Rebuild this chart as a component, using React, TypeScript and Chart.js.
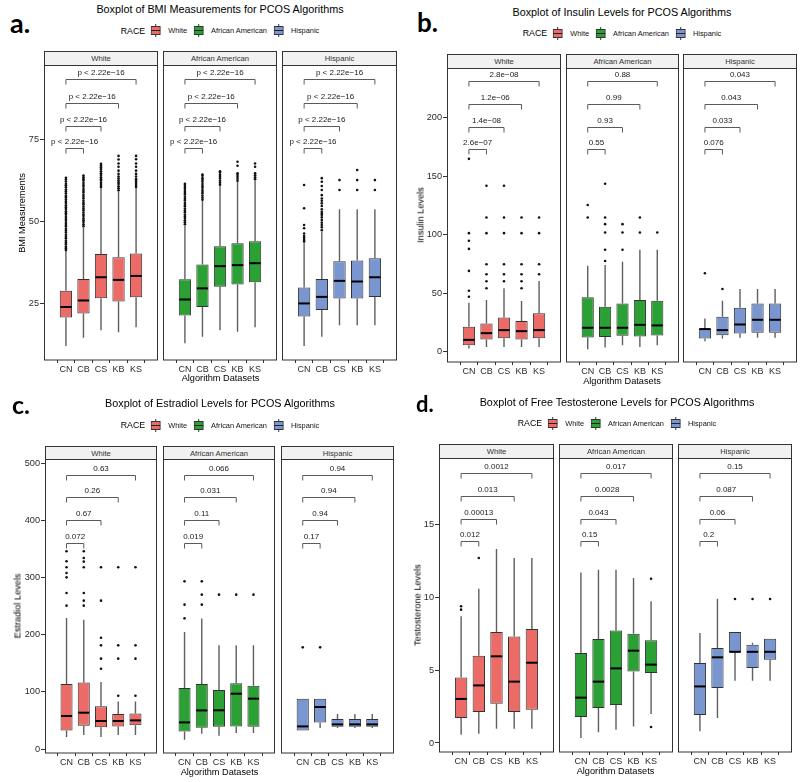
import React, { useEffect, useRef } from 'react';
import { Chart, registerables } from 'chart.js';

Chart.register(...registerables);

const FONT = '"Liberation Sans", Arial, Helvetica, sans-serif';
Chart.defaults.font.family = FONT;

// ---------------- shared categories ----------------
const CATS = ['CN', 'CB', 'CS', 'KB', 'KS'];
const RACES = ['White', 'African American', 'Hispanic'];
const RACE_COLORS = ['#EC6B66', '#2BA035', '#7A96D0'];

// ---------------- a. BMI ----------------
// [lowWhisker, Q1, median, Q3, highWhisker] per algorithm dataset
const bmiWhite = [[12.0, 20.7, 23.9, 28.9, 41.0], [14.5, 21.9, 25.9, 32.5, 48.2], [16.8, 26.6, 33.0, 40.1, 60.3], [16.2, 25.6, 32.2, 39.1, 59.3], [17.7, 26.9, 33.4, 40.3, 60.4]];
const bmiAfrAm = [[12.8, 21.3, 26.2, 32.4, 48.8], [14.8, 23.9, 29.6, 36.9, 56.4], [16.8, 30.1, 36.4, 42.5, 61.0], [16.3, 30.8, 36.7, 43.4, 62.2], [17.7, 31.5, 37.3, 44.0, 62.6]];
const bmiHisp = [[12.0, 21.0, 25.0, 29.9, 43.4], [14.8, 23.0, 27.0, 32.5, 46.9], [18.3, 26.5, 31.9, 37.9, 53.8], [18.3, 26.5, 31.7, 38.1, 53.8], [18.3, 27.0, 33.0, 38.8, 53.8]];
const bmiOutWhite = [
  [41.3, 41.9, 42.4, 43.1, 43.6, 44.2, 44.9, 45.4, 46.0, 46.7, 47.2, 47.8, 48.5, 49.0, 49.6, 50.3, 50.8, 51.4, 52.1, 52.6, 53.2, 53.9, 54.4, 55.0, 55.7, 56.2, 56.8, 57.5, 58.0, 58.7, 59.3, 59.8, 60.5, 61.1, 61.6, 62.3, 62.9, 63.4],
  [48.6, 49.2, 49.9, 50.4, 51.0, 51.7, 52.2, 52.8, 53.5, 54.0, 54.6, 55.3, 55.8, 56.4, 57.1, 57.6, 58.2, 58.9, 59.4, 60.0, 60.7, 61.2, 61.8, 62.5, 63.0, 63.6, 64.1],
  [60.6, 61.2, 61.8, 62.5, 63.0, 63.6, 64.3, 64.8, 65.4, 66.1, 66.6, 67.2, 67.7],
  [59.6, 60.2, 60.8, 61.5, 62.0, 62.6, 63.2, 63.8, 64.6, 65.6, 66.8, 67.8, 69.0, 70.1],
  [60.6, 61.2, 61.8, 62.4, 63.0, 63.8, 64.6, 65.6, 66.8, 67.8, 69.1, 70.1],
];
const bmiOutAfrAm = [
  [49.2, 49.8, 50.4, 51.1, 51.6, 52.2, 52.9, 53.4, 54.0, 54.7, 55.2, 55.8, 56.5, 57.0, 57.6, 58.3, 58.8, 59.4, 60.1, 60.6, 61.2, 61.6],
  [56.7, 57.3, 57.9, 58.6, 59.1, 59.7, 60.4, 60.9, 61.5, 62.2, 62.7, 63.3, 64.0, 64.4],
  [61.3, 61.9, 62.5, 63.2, 63.7, 64.3, 65.0, 65.4],
  [62.5, 63.1, 63.7, 64.3, 64.8, 67.1, 68.3],
  [63.0, 63.6, 64.2, 64.8, 66.8, 67.8],
];
const bmiOutHisp = [
  [43.9, 44.4, 45.0, 45.6, 46.4, 48.0, 49.0, 54.1, 61.2],
  [47.4, 48.3, 49.0, 49.7, 50.5, 51.3, 52.0, 52.5, 53.0, 53.8, 54.8, 55.6, 56.4, 57.1, 58.1, 59.7, 60.9, 62.2, 63.3],
  [59.7, 62.7],
  [59.7, 62.7, 65.8],
  [59.7, 62.7],
];
const bmiTicks = [25, 50, 75];
const bmiBracketY = [72.5, 79.3, 86.3, 93.6];
const bmiPWhite = ['p < 2.22e\u221216', 'p < 2.22e\u221216', 'p < 2.22e\u221216', 'p < 2.22e\u221216'];
const bmiPAfrAm = ['p < 2.22e\u221216', 'p < 2.22e\u221216', 'p < 2.22e\u221216', 'p < 2.22e\u221216'];
const bmiPHisp = ['p < 2.22e\u221216', 'p < 2.22e\u221216', 'p < 2.22e\u221216', 'p < 2.22e\u221216'];

// ---------------- b. Insulin ----------------
const insWhite = [[2.9, 5.7, 10.3, 21.4, 42.0], [4.3, 10.6, 16.0, 24.3, 44.3], [4.3, 11.7, 18.6, 29.4, 54.3], [4.3, 10.6, 17.7, 26.3, 43.4], [4.3, 11.7, 18.6, 32.9, 60.5]];
const insAfrAm = [[2.3, 12.3, 20.6, 46.6, 73.6], [3.7, 12.8, 20.6, 38.5, 74.2], [5.7, 13.7, 20.6, 41.4, 77.0], [4.3, 13.2, 23.1, 44.3, 87.1], [5.7, 14.0, 22.6, 43.6, 87.1]];
const insHisp = [[9.2, 11.5, 19.5, 19.7, 28.6], [11.5, 14.3, 18.6, 30.0, 43.6], [12.0, 15.7, 23.4, 37.7, 53.7], [12.0, 16.3, 27.4, 41.4, 53.7], [12.0, 16.3, 27.4, 41.4, 53.7]];
const insOutWhite = [
  [47.1, 52.2, 69.1, 87.9, 94.8, 101.3, 164.7],
  [54.3, 60.3, 66.3, 74.8, 101.3, 114.7, 141.8],
  [60.3, 66.3, 74.8, 101.3, 114.7, 141.8],
  [54.3, 60.3, 66.3, 74.8, 101.3, 114.7],
  [66.3, 74.8, 101.3, 114.7],
];
const insOutAfrAm = [
  [114.7, 125.3],
  [77.6, 87.1, 101.9, 109.0, 114.7, 143.5],
  [87.1, 101.9, 109.0],
  [101.9, 114.7],
  [101.9],
];
const insOutHisp = [[67.1], [53.7], [], [], []];
const insTicks = [0, 50, 100, 150, 200];
const insBracketY = [172.7, 192.1, 211.8, 231.2];
const insPWhite = ['2.6e\u221207', '1.4e\u221208', '1.2e\u221206', '2.8e\u221208'];
const insPAfrAm = ['0.55', '0.93', '0.99', '0.88'];
const insPHisp = ['0.076', '0.033', '0.043', '0.043'];

// ---------------- c. Estradiol ----------------
const estWhite = [[21, 32.6, 57.8, 113.9, 229.6], [24.5, 40.8, 63.6, 116.7, 226.6], [21, 37.9, 49.1, 74.7, 117.4], [24.5, 39.6, 49.1, 61.3, 83.4], [24.5, 41.4, 50.1, 62.4, 83.4]];
const estAfrAm = [[16.3, 30.8, 46.6, 106.9, 205], [26.8, 37.3, 67.6, 113.9, 228.4], [23.3, 39.1, 67.8, 103.4, 181.6], [28, 39.6, 96.9, 115, 181.6], [28, 39.1, 88.2, 110.9, 181.6]];
const estHisp = [[32.6, 32.6, 39.6, 88.2, 88.2], [36.8, 46.6, 73.6, 88.2, 88.2], [36.8, 39.1, 43.1, 52.6, 61.3], [36.8, 39.1, 43.1, 52.6, 61.3], [36.8, 39.1, 43.1, 52.6, 61.3]];
const estOutWhite = [
  [251.1, 273.4, 300.7, 308.4, 318.3, 328.8, 346.3],
  [251.1, 259.9, 273.4, 318.3, 328.3, 334.7, 346.3],
  [140.7, 158.3, 181.6, 195, 259.9, 318.3],
  [93.4, 158.3, 181.6, 318.3],
  [93.4, 158.3, 181.6, 318.3],
];
const estOutAfrAm = [[228.9, 252.9, 293.7], [252.9, 270.4, 293.7], [270.4], [270.4], [270.4]];
const estOutHisp = [[178.1], [178.1], [], [], []];
const estTicks = [0, 100, 200, 300, 400, 500];
const estBracketY = [361, 400.6, 441, 480.7];
const estPWhite = ['0.072', '0.67', '0.26', '0.63'];
const estPAfrAm = ['0.019', '0.11', '0.031', '0.066'];
const estPHisp = ['0.17', '0.94', '0.94', '0.94'];

// ---------------- d. Free testosterone ----------------
const tesWhite = [[0.57, 1.72, 3.03, 4.51, 8.71], [0.64, 2.13, 3.96, 6.0, 10.61], [0.98, 2.7, 5.96, 7.63, 13.34], [0.98, 2.13, 4.22, 7.33, 12.72], [0.98, 2.29, 5.52, 7.84, 12.72]];
const tesAfrAm = [[0.34, 1.79, 3.12, 6.19, 11.73], [0.73, 2.41, 4.22, 7.15, 11.92], [0.91, 2.61, 5.13, 7.74, 11.92], [1.14, 4.92, 6.35, 7.52, 11.35], [2.0, 4.81, 5.39, 7.06, 9.74]];
const tesHisp = [[0.8, 1.93, 3.89, 5.5, 7.57], [1.72, 3.78, 5.89, 6.53, 9.92], [4.28, 6.23, 6.27, 7.63, 7.63], [4.28, 5.16, 6.27, 6.76, 6.9], [4.28, 5.73, 6.27, 7.17, 7.17]];
const tesOutWhite = [[9.17, 9.4], [12.72], [], [], []];
const tesOutAfrAm = [[], [], [], [], [1.1, 11.3]];
const tesOutHisp = [[], [], [9.9], [9.9], [9.9]];
const tesTicks = [0, 5, 10, 15];
const tesBracketY = [13.87, 15.43, 17.0, 18.57];
const tesPWhite = ['0.012', '0.00013', '0.013', '0.0012'];
const tesPAfrAm = ['0.15', '0.043', '0.0028', '0.017'];
const tesPHisp = ['0.2', '0.06', '0.087', '0.15'];

// ---------------- layout (positions only) ----------------
const YW = 30;
const XH = 20;
const PADTOP = 8;
const PADR = 2;

type Geo = {
  plotTop: number; plotBottom: number; stripTop: number; facets: number[][];
  center: number; titleY: number; legendY: number; letterX: number; letterBase: number;
  letterSize: number; yTitleX: number; xTitleY: number;
};

const PANELS = [
  {
    letter: 'a.', title: 'Boxplot of BMI Measurements for PCOS Algorithms', yTitle: 'BMI Measurements',
    yMin: 7.7, yMax: 97.9, yTicks: bmiTicks, stats: [bmiWhite, bmiAfrAm, bmiHisp],
    outs: [bmiOutWhite, bmiOutAfrAm, bmiOutHisp], bracketY: bmiBracketY, pvals: [bmiPWhite, bmiPAfrAm, bmiPHisp],
    geo: { plotTop: 65, plotBottom: 360, stripTop: 51, facets: [[44, 158], [163, 277], [282, 397]], center: 220, titleY: 8.5, legendY: 30.7, letterX: 10, letterBase: 32.7, letterSize: 27, yTitleX: 22, xTitleY: 378 } as Geo,
  },
  {
    letter: 'b.', title: 'Boxplot of Insulin Levels for PCOS Algorithms', yTitle: 'Insulin Levels',
    yMin: -8.6, yMax: 242.2, yTicks: insTicks, stats: [insWhite, insAfrAm, insHisp],
    outs: [insOutWhite, insOutAfrAm, insOutHisp], bracketY: insBracketY, pvals: [insPWhite, insPAfrAm, insPHisp],
    geo: { plotTop: 68, plotBottom: 362, stripTop: 54, facets: [[447, 561], [566, 679], [683, 797]], center: 622, titleY: 11.5, legendY: 33.3, letterX: 417, letterBase: 32.3, letterSize: 26, yTitleX: 421, xTitleY: 381 } as Geo,
  },
  {
    letter: 'c.', title: 'Boxplot of Estradiol Levels for PCOS Algorithms', yTitle: 'Estradiol Levels',
    yMin: -7, yMax: 508, yTicks: estTicks, stats: [estWhite, estAfrAm, estHisp],
    outs: [estOutWhite, estOutAfrAm, estOutHisp], bracketY: estBracketY, pvals: [estPWhite, estPAfrAm, estPHisp],
    geo: { plotTop: 459, plotBottom: 753, stripTop: 446, facets: [[45, 157], [163, 275], [281, 394]], center: 220, titleY: 403.3, legendY: 425, letterX: 12, letterBase: 414.5, letterSize: 25, yTitleX: 18, xTitleY: 772.7 } as Geo,
  },
  {
    letter: 'd.', title: 'Boxplot of Free Testosterone Levels for PCOS Algorithms', yTitle: 'Testosterone Levels',
    yMin: -0.62, yMax: 19.6, yTicks: tesTicks, stats: [tesWhite, tesAfrAm, tesHisp],
    outs: [tesOutWhite, tesOutAfrAm, tesOutHisp], bracketY: tesBracketY, pvals: [tesPWhite, tesPAfrAm, tesPHisp],
    geo: { plotTop: 458, plotBottom: 752, stripTop: 444, facets: [[439, 554], [559, 673], [678, 792]], center: 617, titleY: 401.7, legendY: 423.3, letterX: 416, letterBase: 412.7, letterSize: 22, yTitleX: 418, xTitleY: 771.7 } as Geo,
  },
];

const BOX_EDGE = '#333333';
const WHISKER = '#5f5f5f';
const AXIS = '#333333';

function decoPlugin(stats: number[][], bracketY: number[], pvals: string[]) {
  return {
    id: 'boxDeco',
    beforeDatasetsDraw(chart: any) {
      const { ctx, scales } = chart;
      const x = scales.x, y = scales.y;
      ctx.save();
      ctx.strokeStyle = WHISKER;
      ctx.lineWidth = 1.4;
      stats.forEach((s, i) => {
        const px = x.getPixelForValue(i);
        ctx.beginPath();
        ctx.moveTo(px, y.getPixelForValue(s[0]));
        ctx.lineTo(px, y.getPixelForValue(s[1]));
        ctx.moveTo(px, y.getPixelForValue(s[3]));
        ctx.lineTo(px, y.getPixelForValue(s[4]));
        ctx.stroke();
      });
      ctx.restore();
    },
    afterDatasetsDraw(chart: any) {
      const { ctx, scales, chartArea: a } = chart;
      const x = scales.x, y = scales.y;
      const meta = chart.getDatasetMeta(0);
      ctx.save();
      // medians
      ctx.strokeStyle = '#000';
      ctx.lineWidth = 2;
      stats.forEach((s, i) => {
        const el = meta.data[i];
        if (!el) return;
        const { x: bx, width } = el.getProps(['x', 'width'], true);
        const py = y.getPixelForValue(s[2]);
        ctx.beginPath();
        ctx.moveTo(bx - width / 2 + 0.5, py);
        ctx.lineTo(bx + width / 2 - 0.5, py);
        ctx.stroke();
      });
      // comparison brackets (CN vs CB, CS, KB, KS)
      ctx.beginPath();
      ctx.rect(a.left, a.top, a.right - a.left, a.bottom - a.top);
      ctx.clip();
      ctx.strokeStyle = '#5a5a5a';
      ctx.lineWidth = 1;
      ctx.fillStyle = '#1a1a1a';
      ctx.font = '8px ' + FONT;
      ctx.textAlign = 'center';
      ctx.textBaseline = 'bottom';
      bracketY.forEach((bv, k) => {
        const x0 = x.getPixelForValue(0);
        const x1 = x.getPixelForValue(k + 1);
        const py = Math.round(y.getPixelForValue(bv)) + 0.5;
        ctx.beginPath();
        ctx.moveTo(x0, py + 5);
        ctx.lineTo(x0, py);
        ctx.lineTo(x1, py);
        ctx.lineTo(x1, py + 5);
        ctx.stroke();
        ctx.fillText(pvals[k], (x0 + x1) / 2, py - 2.5);
      });
      ctx.restore();
      // panel border
      ctx.save();
      ctx.strokeStyle = AXIS;
      ctx.lineWidth = 1;
      ctx.strokeRect(Math.round(a.left) + 0.5, Math.round(a.top) + 0.5, Math.round(a.right - a.left) - 1, Math.round(a.bottom - a.top) - 0.5);
      ctx.restore();
    },
  };
}

function Facet({ p, f }: { p: any; f: number }) {
  const ref = useRef<HTMLCanvasElement>(null);
  const g: Geo = p.geo;
  const [L, R] = g.facets[f];
  const first = f === 0;
  const leftExtra = first ? YW : 2;
  const left = L - leftExtra;
  const width = R - L + leftExtra + PADR;
  const top = g.plotTop - PADTOP;
  const height = g.plotBottom - g.plotTop + PADTOP + XH;

  useEffect(() => {
    const stats: number[][] = p.stats[f];
    const outs: number[][] = p.outs[f];
    const chart = new Chart(ref.current as HTMLCanvasElement, {
      type: 'bar',
      data: {
        datasets: [
          {
            type: 'bar',
            data: stats.map((s, i) => ({ x: i, y: [s[1], s[3]] })) as any,
            backgroundColor: RACE_COLORS[f],
            borderColor: BOX_EDGE,
            borderWidth: 1,
            borderSkipped: false,
            barPercentage: 0.7,
            categoryPercentage: 1,
            order: 2,
          } as any,
          {
            type: 'scatter',
            data: outs.flatMap((arr, i) => arr.map((v) => ({ x: i, y: v }))),
            pointRadius: 1.3,
            pointHoverRadius: 1.3,
            backgroundColor: '#111',
            borderWidth: 0,
            order: 1,
          } as any,
        ],
      },
      options: {
        animation: false,
        responsive: false,
        maintainAspectRatio: false,
        events: [],
        layout: { padding: { top: PADTOP, right: PADR, left: first ? 0 : 2, bottom: 0 } },
        plugins: { legend: { display: false }, tooltip: { enabled: false }, title: { display: false } },
        scales: {
          x: {
            type: 'linear',
            min: -0.6,
            max: 4.6,
            afterBuildTicks: (s: any) => { s.ticks = CATS.map((_, i) => ({ value: i })); },
            afterFit: (s: any) => { s.height = XH; },
            ticks: {
              callback: (v: any) => CATS[v] ?? '',
              color: '#2b2b2b',
              font: { size: 9, family: FONT },
              padding: 1,
              autoSkip: false,
              maxRotation: 0,
            },
            grid: { drawOnChartArea: false, drawTicks: true, tickLength: 3, color: AXIS },
            border: { display: false },
          },
          y: {
            type: 'linear',
            display: first,
            min: p.yMin,
            max: p.yMax,
            afterBuildTicks: (s: any) => { s.ticks = p.yTicks.map((v: number) => ({ value: v })); },
            afterFit: (s: any) => { s.width = first ? YW : 0; },
            ticks: {
              color: '#2b2b2b',
              font: { size: 9.2, family: FONT },
              padding: 1,
            },
            grid: { drawOnChartArea: false, drawTicks: true, tickLength: 4, color: AXIS },
            border: { display: false },
          },
        },
      } as any,
      plugins: [decoPlugin(stats, p.bracketY, p.pvals[f])],
    });
    return () => chart.destroy();
  }, []);

  return (
    <canvas
      ref={ref}
      width={width}
      height={height}
      style={{ position: 'absolute', left, top, width, height }}
    />
  );
}

function LegendGlyph({ color }: { color: string }) {
  return (
    <svg width={10} height={13} style={{ display: 'block' }}>
      <line x1={5} y1={0} x2={5} y2={13} stroke="#333" strokeWidth={1} />
      <rect x={0.5} y={2.5} width={9} height={8} fill={color} stroke="#333" strokeWidth={1} />
      <line x1={0.5} y1={6.5} x2={9.5} y2={6.5} stroke="#222" strokeWidth={1} />
    </svg>
  );
}

function Panel({ p }: { p: any }) {
  const g: Geo = p.geo;
  const midY = (g.plotTop + g.plotBottom) / 2;
  const firstL = g.facets[0][0];
  const lastR = g.facets[2][1];
  return (
    <>
      <div style={{ position: 'absolute', left: g.letterX, top: g.letterBase - 0.89 * g.letterSize, fontFamily: 'Lato, "Open Sans", sans-serif', fontWeight: 700, fontSize: g.letterSize, lineHeight: `${g.letterSize}px`, color: '#000', whiteSpace: 'nowrap' }}>
        {p.letter}
      </div>
      <div style={{ position: 'absolute', left: g.center, top: g.titleY - 7, transform: 'translateX(-50%)', fontSize: 10.8, lineHeight: '14px', color: '#000', whiteSpace: 'nowrap' }}>
        {p.title}
      </div>
      <div style={{ position: 'absolute', left: g.center, top: g.legendY - 7, height: 14, transform: 'translateX(-50%)', display: 'flex', alignItems: 'center', whiteSpace: 'nowrap' }}>
        <span style={{ fontSize: 8.8, color: '#000', marginRight: 6 }}>RACE</span>
        {RACES.map((r, i) => (
          <React.Fragment key={r}>
            <LegendGlyph color={RACE_COLORS[i]} />
            <span style={{ fontSize: 7.4, color: '#111', marginLeft: 7, marginRight: i < 2 ? 7 : 0 }}>{r}</span>
          </React.Fragment>
        ))}
      </div>
      {g.facets.map(([L, R], f) => (
        <div key={'s' + f} style={{ position: 'absolute', left: L, top: g.stripTop, width: R - L, height: g.plotTop - g.stripTop + 1, boxSizing: 'border-box', border: '1px solid #333', background: '#f1f1f1', fontSize: 7.7, color: '#333', display: 'flex', alignItems: 'center', justifyContent: 'center', whiteSpace: 'nowrap' }}>
          {RACES[f]}
        </div>
      ))}
      {g.facets.map((_, f) => (
        <Facet key={'f' + f} p={p} f={f} />
      ))}
      <div style={{ position: 'absolute', left: g.yTitleX, top: midY, transform: 'translate(-50%, -50%) rotate(-90deg)', fontSize: 9.2, lineHeight: '11px', color: '#000', whiteSpace: 'nowrap' }}>
        {p.yTitle}
      </div>
      <div style={{ position: 'absolute', left: (firstL + lastR) / 2, top: g.xTitleY - 5.5, transform: 'translateX(-50%)', fontSize: 9.2, lineHeight: '11px', color: '#000', whiteSpace: 'nowrap' }}>
        Algorithm Datasets
      </div>
    </>
  );
}

export default function App() {
  return (
    <div style={{ position: 'absolute', left: 0, top: 0, width: 800, height: 782, background: '#fff', fontFamily: FONT, overflow: 'hidden' }}>
      {PANELS.map((p, i) => (
        <Panel key={i} p={p} />
      ))}
    </div>
  );
}
